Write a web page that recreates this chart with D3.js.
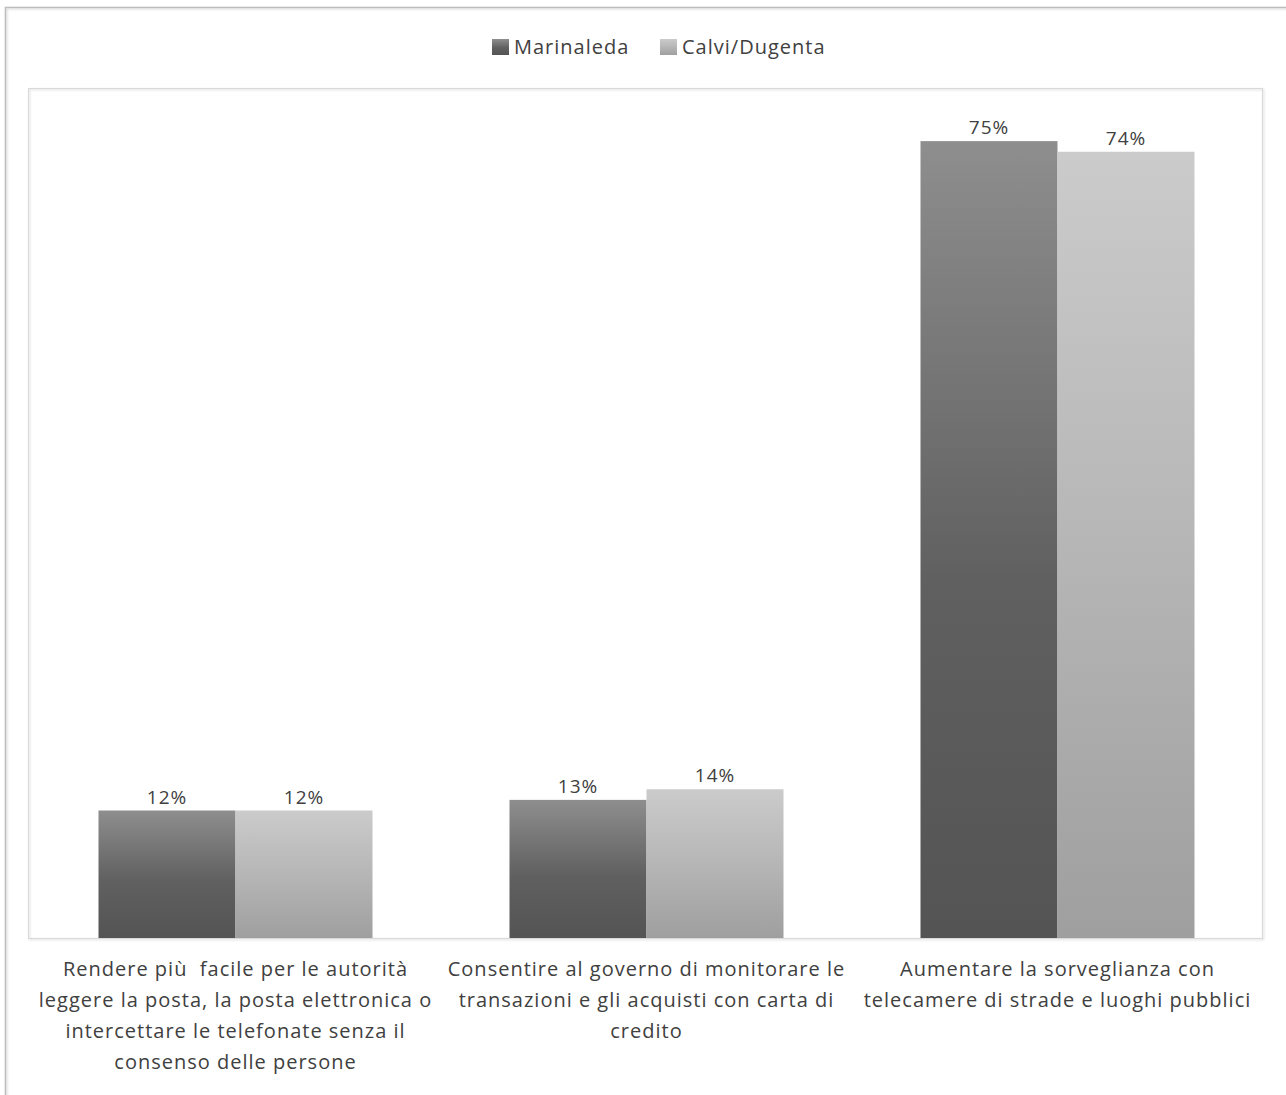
<!DOCTYPE html>
<html><head><meta charset="utf-8">
<script src="https://cdn.jsdelivr.net/npm/d3@7"></script>
<style>
html,body{margin:0;padding:0;background:#fff;}
svg{display:block;font-family:"Open Sans",Lato,sans-serif;}
text{white-space:pre;letter-spacing:1px;}
</style></head>
<body><svg id="c" width="1286" height="1095"></svg>
<script>
const categories = [
  "Rendere più  facile per le autorità\nleggere la posta, la posta elettronica o\nintercettare le telefonate senza il\nconsenso delle persone",
  "Consentire al governo di monitorare le\ntransazioni e gli acquisti con carta di\ncredito",
  "Aumentare la sorveglianza con\ntelecamere di strade e luoghi pubblici"
];
const seriesNames = ["Marinaleda", "Calvi/Dugenta"];
const marinaleda = [12, 13, 75];
const calvi = [12, 14, 74];
const yMax = 80;

const svg = d3.select("#c");
const W = 1286, H = 1095;
const plot = {left: 30, right: 1263, top: 88, bottom: 938};

const defs = svg.append("defs");
const f = defs.append("filter").attr("id","sh").attr("x","-5%").attr("y","-5%").attr("width","110%").attr("height","110%");
f.append("feDropShadow").attr("dx",1).attr("dy",1).attr("stdDeviation",0.8).attr("flood-color","#000").attr("flood-opacity",0.18);

const grads = [
  {id:"g0", stops:[[0,"#8e8e8e"],[0.55,"#606060"],[1,"#545454"]]},
  {id:"g1", stops:[[0,"#cbcbcb"],[0.5,"#b6b6b6"],[1,"#9f9f9f"]]}
];
grads.forEach(g=>{
  const lg = defs.append("linearGradient").attr("id",g.id).attr("x1",0).attr("y1",0).attr("x2",0).attr("y2",1);
  g.stops.forEach(s=>lg.append("stop").attr("offset",s[0]).attr("stop-color",s[1]));
});

// outer chart border
svg.append("path").attr("d",`M5.5,${H}V7.5H${W}`).attr("fill","none").attr("stroke","#bdbdbd").attr("stroke-width",1.5).attr("filter","url(#sh)");
// plot area border
svg.append("rect").attr("x",plot.left-1.5).attr("y",plot.top+0.5).attr("width",plot.right-plot.left+1).attr("height",plot.bottom-plot.top)
  .attr("fill","none").attr("stroke","#d9d9d9").attr("stroke-width",1).attr("filter","url(#sh)");

const x0 = d3.scaleBand().domain(d3.range(categories.length)).range([plot.left, plot.right]).paddingInner(0).paddingOuter(0);
const x1 = d3.scaleBand().domain([0,1]).range([0, x0.bandwidth()]).paddingInner(0).paddingOuter(0.5);
const y = d3.scaleLinear().domain([0, yMax]).range([plot.bottom, plot.top]);

const series = [marinaleda, calvi];
series.forEach((vals, s)=>{
  const g = svg.append("g");
  g.selectAll("rect").data(vals).join("rect")
    .attr("x",(d,i)=>x0(i)+x1(s))
    .attr("y",d=>y(d))
    .attr("width",x1.bandwidth())
    .attr("height",d=>y(0)-y(d))
    .attr("fill",`url(#g${s})`);
  g.selectAll("text").data(vals).join("text")
    .attr("x",(d,i)=>x0(i)+x1(s)+x1.bandwidth()/2)
    .attr("y",d=>y(d)-7)
    .attr("text-anchor","middle")
    .attr("font-size",19)
    .attr("fill","#404040")
    .text(d=>d+"%");
});

// x axis line
const xAxis = d3.axisBottom(x0).tickSize(0).tickFormat("");
const ax = svg.append("g").attr("transform",`translate(0,${plot.bottom})`).call(xAxis);
ax.select(".domain").attr("stroke","#9a9a9a").attr("stroke-width",2).attr("filter","url(#sh)");

// category labels
categories.forEach((c,i)=>{
  const t = svg.append("text").attr("text-anchor","middle").attr("font-size",20).attr("fill","#404040");
  c.split("\n").forEach((line,k)=>{
    t.append("tspan").attr("x",x0(i)+x0.bandwidth()/2).attr("y",976+k*31).text(line);
  });
});

// legend
const legX = [492, 660];
seriesNames.forEach((n,i)=>{
  svg.append("rect").attr("x",legX[i]).attr("y",39).attr("width",17).attr("height",16).attr("fill",`url(#g${i})`);
  svg.append("text").attr("x",legX[i]+22).attr("y",54).attr("font-size",20).attr("fill","#404040").text(n);
});
</script></body></html>
